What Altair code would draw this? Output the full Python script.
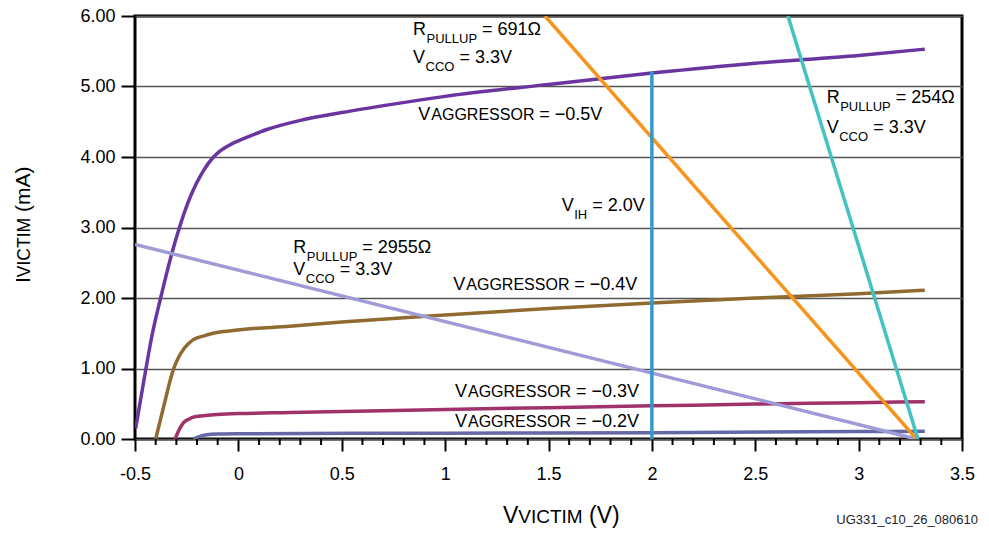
import altair as alt
import pandas as pd

FONT = "Liberation Sans"

# ---------------- data ----------------
# V_AGGRESSOR = -0.5 V
agg05_x = [-0.497, -0.447, -0.419, -0.376, -0.322, -0.285, -0.24, -0.202, -0.17, -0.145, -0.12,
           -0.095, -0.065, -0.03, 0.0, 0.05, 0.138, 0.3, 0.5, 0.75, 1.0, 1.5, 2.0, 2.5, 3.0, 3.32]
agg05_y = [0.15, 1.0, 1.45, 2.0, 2.63, 3.0, 3.38, 3.63, 3.80, 3.91, 4.0,
           4.07, 4.13, 4.19, 4.23, 4.29, 4.39, 4.52, 4.63, 4.75, 4.86, 5.03, 5.19, 5.33, 5.44, 5.53]
# V_AGGRESSOR = -0.4 V
agg04_x = [-0.40, -0.358, -0.315, -0.291, -0.266, -0.242, -0.218, -0.17, -0.122, 0.008, 0.25,
           0.5, 1.0, 1.5, 2.0, 2.5, 3.0, 3.32]
agg04_y = [0.0, 0.5, 0.98, 1.15, 1.27, 1.35, 1.41, 1.46, 1.50, 1.55, 1.60,
           1.66, 1.76, 1.85, 1.93, 2.0, 2.06, 2.11]
# V_AGGRESSOR = -0.3 V
agg03_x = [-0.306, -0.285, -0.266, -0.24, -0.218, -0.17, -0.12, 0.0, 0.25, 0.5, 1.0, 1.5, 2.0, 2.5, 3.0, 3.32]
agg03_y = [0.0, 0.14, 0.23, 0.28, 0.31, 0.33, 0.345, 0.36, 0.375, 0.39, 0.42, 0.445, 0.47, 0.495, 0.515, 0.53]
# V_AGGRESSOR = -0.2 V
agg02_x = [-0.218, -0.19, -0.153, -0.1, 0.0, 1.0, 2.0, 3.0, 3.32]
agg02_y = [0.0, 0.035, 0.06, 0.07, 0.075, 0.083, 0.09, 0.105, 0.11]

# load lines
load2955_x = [-0.5, 3.28]
load2955_y = [2.76, 0.0]
load691_x = [1.483, 3.28]
load691_y = [6.0, 0.0]
load254_x = [2.658, 3.287]
load254_y = [6.0, 0.0]
# V_IH marker
vih_x = [2.0, 2.0]
vih_y = [0.0, 5.21]

x_major = [-0.5, 0, 0.5, 1, 1.5, 2, 2.5, 3, 3.5]
x_minor = [-0.4, -0.3, -0.2, -0.1, 0.1, 0.2, 0.3, 0.4, 0.6, 0.7, 0.8, 0.9,
           1.1, 1.2, 1.3, 1.4, 1.6, 1.7, 1.8, 1.9, 2.1, 2.2, 2.3, 2.4,
           2.6, 2.7, 2.8, 2.9, 3.1, 3.2, 3.3, 3.4]
y_ticks = [0, 1, 2, 3, 4, 5, 6]

curve_names = ["agg05", "agg04", "agg03", "agg02"]
curve_colors = ["#6a35a0", "#8f6b32", "#a03169", "#6568a6"]
line_names = ["l2955", "l691", "l254"]
line_colors = ["#9e9bd6", "#f7941d", "#43c2c2"]

W, H = 827, 423
TOP = 16  # page y of plot top
XD = [-0.5, 3.5]
YD = [0, 6]
PX_X = (XD[1] - XD[0]) / W
PX_Y = (YD[1] - YD[0]) / H

def px_to_data(px, py):
    return XD[0] + px * PX_X, YD[1] - py * PX_Y

def page_to_data(px, py):
    return px_to_data(px - 135, py - TOP)

# ---------------- tables ----------------
rows = []
for n, xs_, ys_ in zip(curve_names, [agg05_x, agg04_x, agg03_x, agg02_x], [agg05_y, agg04_y, agg03_y, agg02_y]):
    for i, (a, b) in enumerate(zip(xs_, ys_)):
        rows.append({"s": n, "x": a, "y": b, "o": i})
curves = pd.DataFrame(rows)

rows = []
for n, xs_, ys_ in zip(line_names, [load2955_x, load691_x, load254_x], [load2955_y, load691_y, load254_y]):
    for i, (a, b) in enumerate(zip(xs_, ys_)):
        rows.append({"s": n, "x": a, "y": b, "o": i})
lines = pd.DataFrame(rows)
vih = pd.DataFrame({"x": vih_x, "y": vih_y})
minor = pd.DataFrame({"x": x_minor})

# annotation segments: (page px of left, page py of baseline, [(text, size, dx_px, dy_px), ...])
ann_groups = [
    (413, 35, [("R", 18, 0, 0), ("PULLUP", 13, 13.5, 7.7), ("= 691Ω", 18, 69, 0)]),
    (413, 63.3, [("V", 18, 0, 0), ("CCO", 13, 12.5, 8), ("= 3.3V", 18, 46.5, 0)]),
    (826.7, 103.3, [("R", 18, 0, 0), ("PULLUP", 13, 13.5, 7.7), ("= 254Ω", 18, 69, 0)]),
    (826.7, 133.3, [("V", 18, 0, 0), ("CCO", 13, 12.5, 8), ("= 3.3V", 18, 46.5, 0)]),
    (293.3, 253.3, [("R", 18, 0, 0), ("PULLUP", 13, 13.5, 7.7), ("= 2955Ω", 18, 69, 0)]),
    (293.3, 275, [("V", 18, 0, 0), ("CCO", 13, 12.5, 8), ("= 3.3V", 18, 46.5, 0)]),
    (561.7, 210.7, [("V", 18, 0, 0), ("IH", 13, 12.5, 8), ("= 2.0V", 18, 30.5, 0)]),
    (418.3, 120, [("V", 18, 0, 0), ("AGGRESSOR", 16, 13, 0), ("= −0.5V", 18, 121, 0)]),
    (453.3, 290, [("V", 18, 0, 0), ("AGGRESSOR", 16, 13, 0), ("= −0.4V", 18, 121, 0)]),
    (455, 396.7, [("V", 18, 0, 0), ("AGGRESSOR", 16, 13, 0), ("= −0.3V", 18, 121, 0)]),
    (455, 426.7, [("V", 18, 0, 0), ("AGGRESSOR", 16, 13, 0), ("= −0.2V", 18, 121, 0)]),
    # x axis title
    (503, 523, [("V", 23, 0, 0), ("VICTIM", 19, 15.3, 0), ("(V)", 23, 86.1, 0)]),
]

rows = []
for gx, gy, segs in ann_groups:
    for t, fs, dx, dy in segs:
        x0, y0 = page_to_data(gx + dx, gy + dy)
        rows.append({"x": x0, "y": y0, "t": t, "fs": fs})
ann = pd.DataFrame(rows)

# y axis title, rotated (page x of baseline, page y of text start at bottom)
yt_page = (30, 283)
yt_segs = [("I", 21, 0), ("VICTIM", 17.5, 5.8), ("(mA)", 21, 70.9)]
rows = []
for t, fs, off in yt_segs:
    x0, y0 = page_to_data(yt_page[0], yt_page[1] - off)
    rows.append({"x": x0, "y": y0, "t": t, "fs": fs})
ytitle = pd.DataFrame(rows)

fx, fy = page_to_data(978, 523.5)
foot = pd.DataFrame({"x": [fx], "y": [fy], "t": ["UG331_c10_26_080610"]})

xs = alt.Scale(domain=XD, nice=False, zero=False)
ys = alt.Scale(domain=YD, nice=False, zero=False)

x_axis = alt.Axis(values=x_major, labelExpr="toString(datum.value)", title=None, grid=False,
                  domain=False, tickSize=12, tickWidth=2, tickColor="black",
                  labelFont=FONT, labelFontSize=18, labelColor="black", labelPadding=14,
                  labelFlush=False, labelOverlap=False)
y_axis = alt.Axis(values=y_ticks, format=".2f", title=None, grid=True, gridColor="#555555",
                  gridWidth=1.3, domain=False, tickSize=14, tickWidth=2, tickColor="black",
                  labelFont=FONT, labelFontSize=18, labelColor="black", labelPadding=6,
                  labelOverlap=False)

X = alt.X("x:Q", scale=xs, axis=x_axis)
Y = alt.Y("y:Q", scale=ys, axis=y_axis)

curve_layer = alt.Chart(curves).mark_line(strokeWidth=3.5, interpolate="monotone", clip=True).encode(
    x=X, y=Y,
    color=alt.Color("s:N", scale=alt.Scale(domain=curve_names, range=curve_colors), legend=None),
    order="o:Q",
)
line_layer = alt.Chart(lines).mark_line(strokeWidth=3.5, clip=True).encode(
    x=X, y=Y,
    color=alt.Color("s:N", scale=alt.Scale(domain=line_names, range=line_colors), legend=None),
    order="o:Q",
)
vih_layer = alt.Chart(vih).mark_line(strokeWidth=3.5, color="#3399cc").encode(x=X, y=Y)

minor_layer = alt.Chart(minor).mark_rule(color="black", strokeWidth=2).encode(
    x=X, y=alt.value(H), y2=alt.value(H + 6)
)

text_layer = alt.Chart(ann).mark_text(align="left", baseline="alphabetic", font=FONT, color="black").encode(
    x=X, y=Y, text="t:N", size=alt.Size("fs:Q", scale=None)
)
ytitle_layer = alt.Chart(ytitle).mark_text(align="left", baseline="alphabetic", font=FONT, color="black",
                                            angle=270).encode(
    x=X, y=Y, text="t:N", size=alt.Size("fs:Q", scale=None)
)
foot_layer = alt.Chart(foot).mark_text(align="right", baseline="alphabetic", font=FONT, fontSize=13,
                                        color="#222222").encode(x=X, y=Y, text="t:N")

chart = alt.layer(
    curve_layer, line_layer, vih_layer, minor_layer, text_layer, ytitle_layer, foot_layer
).properties(
    width=W, height=H,
    padding={"left": 127, "top": TOP - 8, "right": 19, "bottom": 90},
    autosize=alt.AutoSizeParams(type="none"),
).configure_view(stroke="black", strokeWidth=3).resolve_scale(color="independent")

chart.save("out.html", embed_options={"renderer": "svg", "actions": False})
